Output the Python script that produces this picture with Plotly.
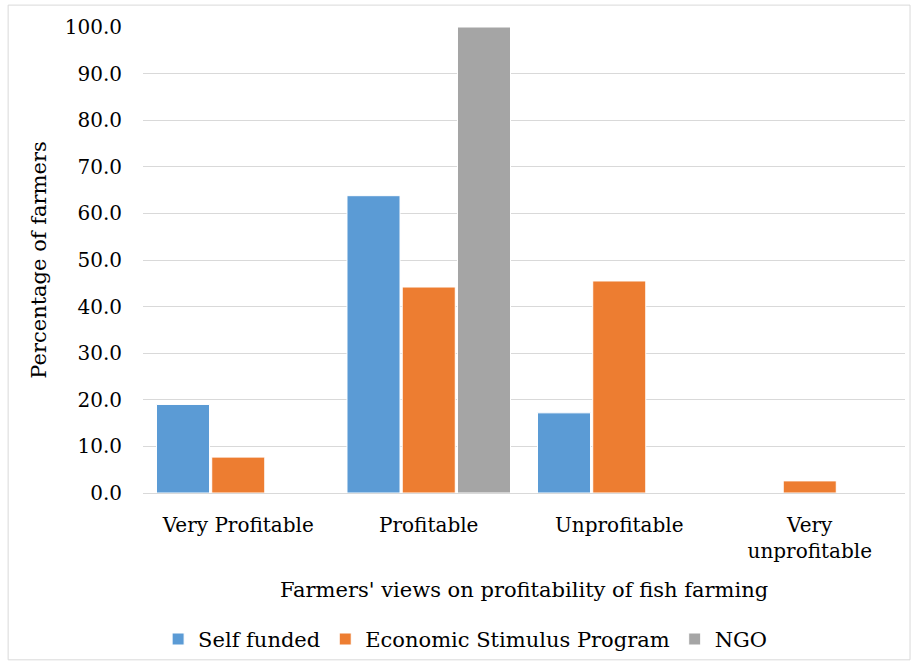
import plotly.graph_objects as go

categories = ["Very Profitable", "Profitable", "Unprofitable", "Very<br>unprofitable"]
self_funded = [19.0, 63.8, 17.2, 0.0]
esp = [7.7, 44.2, 45.5, 2.6]
ngo = [0.0, 100.0, 0.0, 0.0]
tick_vals = [0, 10, 20, 30, 40, 50, 60, 70, 80, 90, 100]
tick_text = [f"{v:.1f}" for v in tick_vals]

font_family = "DejaVu Serif"
fig = go.Figure()
for name, vals, color in [("Self funded", self_funded, "#5B9BD5"),
                          ("Economic Stimulus Program", esp, "#ED7D31"),
                          ("NGO", ngo, "#A5A5A5")]:
    fig.add_trace(go.Bar(x=categories, y=vals, name=name, marker_color=color,
                         marker_line_color="white", marker_line_width=1))

fig.update_layout(
    width=912, height=666,
    margin=dict(l=143, r=7, t=27, b=173),
    paper_bgcolor="white", plot_bgcolor="white",
    barmode="group", bargap=0.13, bargroupgap=0.04,
    font=dict(family=font_family, size=20, color="#000000"),
    showlegend=True,
    legend=dict(orientation="h", x=0.51, xanchor="center", xref="container",
                y=0.04, yanchor="middle", yref="container", bgcolor="rgba(0,0,0,0)",
                font=dict(size=21, family=font_family), itemwidth=30, tracegroupgap=0),
    xaxis=dict(title=dict(text="Farmers' views on profitability of fish farming", standoff=20,
                          font=dict(size=21, family=font_family)),
               automargin=False,
               tickfont=dict(size=20, family=font_family), showline=True, linecolor="#D9D9D9", linewidth=1,
               ticks="", ticklabelstandoff=14),
    yaxis=dict(title=dict(text="Percentage of farmers", font=dict(size=21, family=font_family), standoff=12),
               automargin=False,
               range=[0, 100], tickvals=tick_vals, ticktext=tick_text,
               tickfont=dict(size=20, family=font_family), gridcolor="#D9D9D9", gridwidth=1,
               zeroline=False, showline=False, ticks="", ticklabelstandoff=20),
)
fig.add_shape(type="rect", xref="paper", yref="paper",
              x0=-0.177, x1=1.0066, y0=-0.358, y1=1.047,
              line=dict(color="#D9D9D9", width=1), fillcolor="rgba(0,0,0,0)")
fig.write_html("out.html")
